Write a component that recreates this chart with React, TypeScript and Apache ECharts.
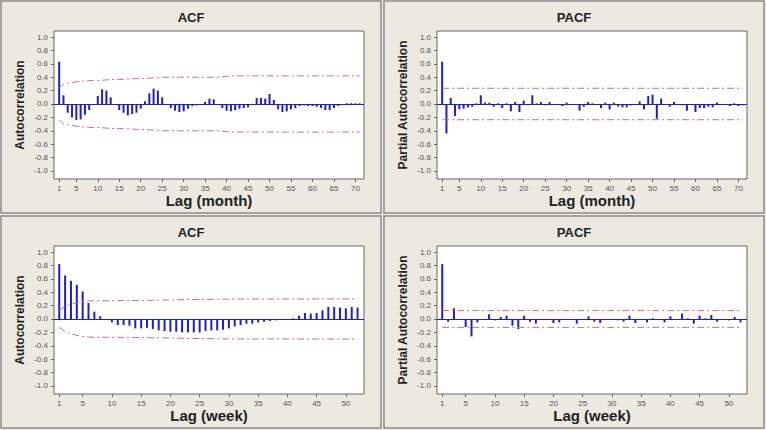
import React, { useEffect, useRef } from "react";
import * as echarts from "echarts";

// ---------- data ----------
const ACF_MONTH = [
  0.63, 0.13, -0.13, -0.2, -0.24, -0.23, -0.16, -0.09, 0.0, 0.12,
  0.22, 0.2, 0.1, 0.0, -0.09, -0.13, -0.17, -0.15, -0.13, -0.07,
  0.04, 0.16, 0.23, 0.2, 0.1, 0.0, -0.06, -0.1, -0.12, -0.11,
  -0.07, -0.03, -0.02, -0.01, 0.03, 0.08, 0.07, 0.0, -0.06, -0.1,
  -0.11, -0.09, -0.07, -0.06, -0.05, 0.0, 0.09, 0.09, 0.08, 0.15,
  0.06, -0.08, -0.12, -0.11, -0.08, -0.06, -0.03, -0.02, -0.03, -0.03,
  -0.04, -0.06, -0.09, -0.09, -0.06, -0.03, -0.01, 0.01, 0.01, 0.01, 0.01,
];
const ACF_MONTH_LIMIT = [
  0.235, 0.3, 0.31, 0.32, 0.33, 0.34, 0.345, 0.35, 0.35, 0.35,
  0.355, 0.36, 0.365, 0.365, 0.365, 0.37, 0.37, 0.375, 0.38, 0.38,
  0.38, 0.385, 0.39, 0.395, 0.4, 0.4, 0.4, 0.4, 0.4, 0.4,
  0.4, 0.4, 0.4, 0.4, 0.4, 0.4, 0.4, 0.4, 0.405, 0.415,
  0.42, 0.42, 0.42, 0.42, 0.42, 0.42, 0.42, 0.42, 0.42, 0.42,
  0.42, 0.42, 0.42, 0.42, 0.42, 0.42, 0.42, 0.42, 0.42, 0.42,
  0.42, 0.42, 0.42, 0.42, 0.42, 0.42, 0.42, 0.42, 0.42, 0.42, 0.42,
];
const PACF_MONTH = [
  0.63, -0.44, 0.09, -0.18, -0.08, -0.07, -0.05, -0.04, 0.01, 0.13,
  0.02, 0.02, -0.04, 0.01, -0.06, 0.01, -0.11, 0.03, -0.12, 0.05,
  -0.02, 0.13, 0.01, 0.03, -0.02, 0.03, 0.0, 0.0, -0.03, 0.02,
  -0.01, -0.01, -0.1, -0.04, 0.03, 0.01, 0.0, -0.06, 0.02, -0.08,
  0.02, -0.04, -0.05, -0.05, -0.02, 0.0, 0.04, -0.08, 0.12, 0.14,
  -0.22, 0.08, 0.0, -0.04, 0.03, -0.01, -0.02, -0.1, 0.0, -0.12,
  -0.06, -0.06, -0.04, -0.05, 0.02, 0.0, 0.0, -0.03, 0.01, -0.03, -0.02,
];
const PACF_MONTH_LIMIT = 0.235;

const ACF_WEEK = [
  0.82, 0.65, 0.57, 0.51, 0.41, 0.24, 0.11, 0.04, 0.0, -0.05,
  -0.09, -0.09, -0.1, -0.14, -0.14, -0.13, -0.15, -0.17, -0.18, -0.19,
  -0.19, -0.2, -0.2, -0.2, -0.2, -0.18, -0.17, -0.17, -0.16, -0.14,
  -0.11, -0.09, -0.07, -0.07, -0.05, -0.04, -0.03, -0.02, -0.01, 0.0,
  0.01, 0.05, 0.09, 0.08, 0.09, 0.13, 0.18, 0.18, 0.17, 0.16,
  0.18, 0.17,
];
const ACF_WEEK_LIMIT = [
  0.125, 0.19, 0.22, 0.245, 0.26, 0.27, 0.272, 0.273, 0.273, 0.273,
  0.274, 0.275, 0.275, 0.276, 0.277, 0.278, 0.279, 0.28, 0.282, 0.284,
  0.286, 0.288, 0.29, 0.291, 0.292, 0.293, 0.294, 0.295, 0.296, 0.297,
  0.298, 0.298, 0.298, 0.298, 0.298, 0.298, 0.298, 0.298, 0.298, 0.298,
  0.299, 0.299, 0.299, 0.299, 0.299, 0.3, 0.3, 0.3, 0.3, 0.3,
  0.3, 0.3,
];
const PACF_WEEK = [
  0.82, -0.04, 0.16, 0.0, -0.12, -0.26, -0.05, -0.01, 0.07, -0.02,
  0.03, 0.05, -0.1, -0.15, 0.05, -0.04, -0.07, -0.01, 0.0, -0.06,
  -0.05, -0.01, 0.0, -0.07, -0.01, 0.04, -0.04, -0.06, 0.0, 0.0,
  -0.02, -0.04, 0.05, -0.06, 0.0, -0.05, 0.01, 0.0, -0.05, 0.04,
  0.0, 0.08, 0.01, -0.07, 0.05, 0.01, 0.06, -0.04, 0.0, -0.02,
  0.03, -0.05,
];
const PACF_WEEK_LIMIT = 0.125;

const MONTH_TICKS = [1, 5, 10, 15, 20, 25, 30, 35, 40, 45, 50, 55, 60, 65, 70];
const WEEK_TICKS = [1, 5, 10, 15, 20, 25, 30, 35, 40, 45, 50];
const Y_TICKS = [-1, -0.8, -0.6, -0.4, -0.2, 0, 0.2, 0.4, 0.6, 0.8, 1];

// ---------- styling ----------
const BG = "#ECEAE0";
const BAR = "#1f1fc4";
const LIMIT = "#d46a78";
const FONT = "Liberation Sans";

const PANELS = [
  { x: 0, y: 0, title: "ACF", yName: "Autocorrelation", xName: "Lag (month)" },
  { x: 383, y: 0, title: "PACF", yName: "Partial Autocorrelation", xName: "Lag (month)" },
  { x: 0, y: 215, title: "ACF", yName: "Autocorrelation", xName: "Lag (week)" },
  { x: 383, y: 215, title: "PACF", yName: "Partial Autocorrelation", xName: "Lag (week)" },
];

const pairs = (vals: number[], sign = 1) => vals.map((v, i) => [i + 1, sign * v]);

export default function App() {
  const ref = useRef<HTMLDivElement>(null);
  useEffect(() => {
    if (!ref.current) return;
    const chart = echarts.init(ref.current, undefined, { renderer: "svg" });

    const grids = PANELS.map((p) => ({
      left: p.x + 54,
      top: p.y + 31,
      width: 310,
      height: 148,
      show: true,
      backgroundColor: "#ffffff",
      borderColor: "#666",
      borderWidth: 1,
    }));

    const xRanges = [
      { min: -0.2, max: 72, ticks: MONTH_TICKS },
      { min: -0.2, max: 72, ticks: MONTH_TICKS },
      { min: 0.1, max: 53.1, ticks: WEEK_TICKS },
      { min: 0.1, max: 53.1, ticks: WEEK_TICKS },
    ];

    const xAxes = PANELS.map((p, i) => ({
      type: "value",
      gridIndex: i,
      min: xRanges[i].min,
      max: xRanges[i].max,
      axisLine: { show: false, onZero: false },
      splitLine: { show: false },
      axisTick: {
        show: true,
        customValues: xRanges[i].ticks,
        length: 3,
        lineStyle: { color: "#666" },
      },
      axisLabel: {
        customValues: xRanges[i].ticks,
        fontSize: 8,
        color: "#555",
        margin: 5,
        fontFamily: FONT,
      },
      name: p.xName,
      nameLocation: "middle",
      nameGap: 12,
      nameTextStyle: { fontSize: 15, fontWeight: "bold", color: "#222", fontFamily: FONT },
    }));

    const yAxes = PANELS.map((p, i) => ({
      type: "value",
      gridIndex: i,
      min: -1.12,
      max: 1.09,
      axisLine: { show: false, onZero: false },
      splitLine: { show: false },
      axisTick: {
        show: true,
        customValues: Y_TICKS,
        length: 3,
        lineStyle: { color: "#666" },
      },
      axisLabel: {
        customValues: Y_TICKS,
        formatter: (v: number) => v.toFixed(1),
        fontSize: 8,
        color: "#555",
        margin: 6,
        fontFamily: FONT,
      },
      name: p.yName,
      nameLocation: "middle",
      nameGap: 28,
      nameTextStyle: { fontSize: 12, fontWeight: "bold", color: "#222", fontFamily: FONT },
    }));

    const barSeries = (vals: number[], idx: number) => ({
      type: "bar",
      xAxisIndex: idx,
      yAxisIndex: idx,
      data: pairs(vals),
      barWidth: 2,
      itemStyle: { color: BAR },
      silent: true,
      markLine: {
        silent: true,
        symbol: ["none", "none"],
        label: { show: false },
        lineStyle: { color: BAR, width: 1, type: "solid" },
        data: [{ yAxis: 0 }],
      },
    });

    const limitLine = (data: number[][], idx: number) => ({
      type: "line",
      xAxisIndex: idx,
      yAxisIndex: idx,
      data,
      symbol: "none",
      silent: true,
      lineStyle: { color: LIMIT, width: 1, type: [7, 3, 2, 3] },
    });

    const constLimit = (lim: number, n: number, sign: number) => [
      [1, sign * lim],
      [n, sign * lim],
    ];

    const series = [
      barSeries(ACF_MONTH, 0),
      limitLine(pairs(ACF_MONTH_LIMIT, 1), 0),
      limitLine(pairs(ACF_MONTH_LIMIT, -1), 0),
      barSeries(PACF_MONTH, 1),
      limitLine(constLimit(PACF_MONTH_LIMIT, PACF_MONTH.length, 1), 1),
      limitLine(constLimit(PACF_MONTH_LIMIT, PACF_MONTH.length, -1), 1),
      barSeries(ACF_WEEK, 2),
      limitLine(pairs(ACF_WEEK_LIMIT, 1), 2),
      limitLine(pairs(ACF_WEEK_LIMIT, -1), 2),
      barSeries(PACF_WEEK, 3),
      limitLine(constLimit(PACF_WEEK_LIMIT, PACF_WEEK.length, 1), 3),
      limitLine(constLimit(PACF_WEEK_LIMIT, PACF_WEEK.length, -1), 3),
    ];

    const graphic: any[] = [];
    PANELS.forEach((p) => {
      graphic.push({
        type: "rect",
        silent: true,
        shape: { x: p.x + 1, y: p.y + 1, width: 380, height: 212 },
        style: { fill: "none", stroke: "#8c8c8c", lineWidth: 1.5 },
      });
      graphic.push({
        type: "text",
        silent: true,
        x: p.x + 191,
        y: p.y + 17,
        style: {
          text: p.title,
          align: "center",
          verticalAlign: "middle",
          fontSize: 13,
          fontWeight: "bold",
          fontFamily: FONT,
          fill: "#222",
        },
      });
    });

    chart.setOption({
      animation: false,
      backgroundColor: BG,
      grid: grids,
      xAxis: xAxes,
      yAxis: yAxes,
      series,
      graphic,
    });
    return () => chart.dispose();
  }, []);

  return (
    <div
      ref={ref}
      style={{ position: "fixed", left: 0, top: 0, width: 766, height: 430, background: BG }}
    />
  );
}
